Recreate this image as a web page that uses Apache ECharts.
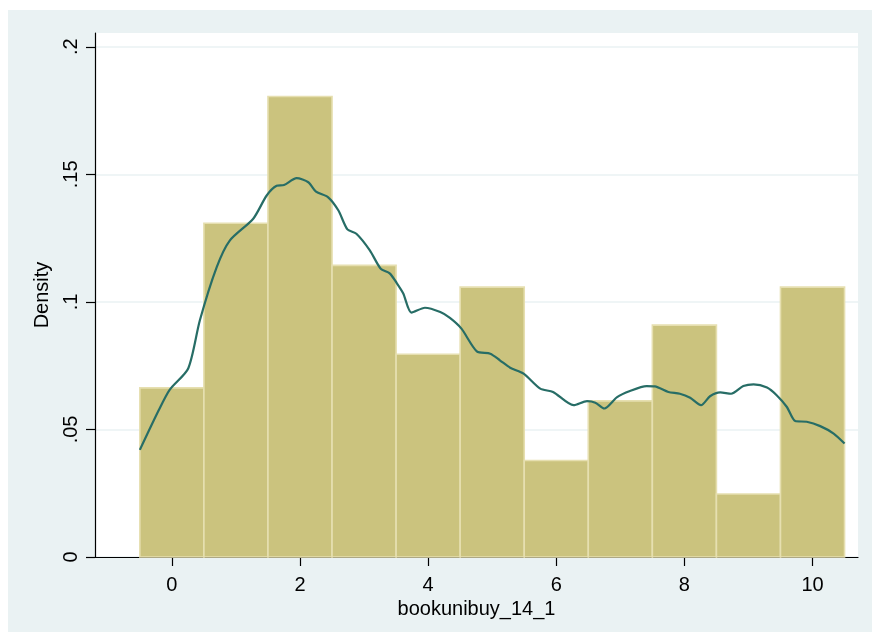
<!DOCTYPE html>
<html>
<head>
<meta charset="utf-8">
<script src="https://cdn.jsdelivr.net/npm/echarts@6/dist/echarts.min.js"></script>
<style>
  html, body { margin: 0; padding: 0; background: #ffffff; }
  #chart { width: 872px; height: 639px; }
</style>
</head>
<body>
<div id="chart"></div>
<script>
// Histogram bins (centres) and their densities
const binCentres = [0, 1, 2, 3, 4, 5, 6, 7, 8, 9, 10];
const binDensity = [0.0663, 0.1308, 0.1805, 0.1143, 0.0795, 0.1058, 0.0378, 0.0612, 0.0909, 0.0247, 0.1058];
const binWidth = 1;

// Kernel density estimate
const kdeX = [-0.5, -0.2, -0.03, 0.255, 0.437, 0.70, 0.906, 1.27, 1.48, 1.635, 1.75, 1.947, 2.13, 2.25, 2.44, 2.6, 2.74, 2.88, 3.09, 3.26, 3.40, 3.51, 3.61, 3.74, 3.95, 4.19, 4.34, 4.52, 4.76, 4.97, 5.12, 5.28, 5.49, 5.75, 5.95, 6.27, 6.48, 6.61, 6.75, 6.95, 7.15, 7.41, 7.54, 7.75, 7.93, 8.09, 8.26, 8.40, 8.56, 8.73, 8.92, 9.08, 9.29, 9.44, 9.60, 9.73, 9.91, 10.12, 10.33, 10.5];
const kdeY = [0.0420, 0.0578, 0.0657, 0.0739, 0.0928, 0.1136, 0.1241, 0.1326, 0.1417, 0.1455, 0.1458, 0.1485, 0.1469, 0.1432, 0.1410, 0.1358, 0.1284, 0.1267, 0.1202, 0.1130, 0.1112, 0.1074, 0.1034, 0.0958, 0.0977, 0.0960, 0.0937, 0.0895, 0.0806, 0.0797, 0.0771, 0.0742, 0.0719, 0.0660, 0.0647, 0.0595, 0.0611, 0.0605, 0.0582, 0.0627, 0.0651, 0.0670, 0.0669, 0.0647, 0.0640, 0.0624, 0.0595, 0.0630, 0.0645, 0.0640, 0.0670, 0.0677, 0.0664, 0.0634, 0.0588, 0.0533, 0.0530, 0.0513, 0.0484, 0.0445];

// Axis ticks
const xTicks = [0, 2, 4, 6, 8, 10];
const yTicks = [0, 0.05, 0.1, 0.15, 0.2];

const xTitle = 'bookunibuy_14_1';
const yTitle = 'Density';

const FONT = '"Liberation Sans", Arial, sans-serif';
const REGION = '#eaf2f3';

const chart = echarts.init(document.getElementById('chart'), null, { renderer: 'canvas' });

const histData = binCentres.map((c, i) => [c, binDensity[i]]);
const kdeData = kdeX.map((x, i) => [x, kdeY[i]]);

function fmtY(v) {
  if (v === 0) return '0';
  return String(Math.round(v * 1000) / 1000).replace(/^0\./, '.');
}

chart.setOption({
  backgroundColor: '#ffffff',
  animation: false,
  graphic: [{
    type: 'rect',
    z: -100,
    silent: true,
    shape: { x: 8, y: 10, width: 864, height: 622 },
    style: { fill: REGION }
  }],
  grid: {
    left: 95, right: 14, top: 33, bottom: 82,
    show: true,
    backgroundColor: '#ffffff',
    borderWidth: 0
  },
  xAxis: {
    type: 'value',
    min: -1.2,
    max: 10.71,
    name: xTitle,
    nameLocation: 'middle',
    nameGap: 39,
    nameTextStyle: { fontFamily: FONT, fontSize: 20, color: '#000' },
    axisLine: { show: true, onZero: false, lineStyle: { color: '#000', width: 1.2 } },
    axisTick: { show: true, length: 9, customValues: xTicks, lineStyle: { color: '#000', width: 1.2 } },
    axisLabel: { customValues: xTicks, margin: 18, fontFamily: FONT, fontSize: 20, color: '#000' },
    splitLine: { show: false }
  },
  yAxis: {
    type: 'value',
    min: 0,
    max: 0.2054,
    name: yTitle,
    nameLocation: 'middle',
    nameGap: 43,
    nameRotate: 90,
    nameTextStyle: { fontFamily: FONT, fontSize: 20, color: '#000' },
    axisLine: { show: true, onZero: false, lineStyle: { color: '#000', width: 1.2 } },
    axisTick: { show: true, length: 9, customValues: yTicks, lineStyle: { color: '#000', width: 1.2 } },
    axisLabel: {
      customValues: yTicks, rotate: 90, margin: 14,
      fontFamily: FONT, fontSize: 20, color: '#000',
      formatter: fmtY
    },
    splitLine: { show: true, lineStyle: { color: REGION, width: 1.6 } }
  },
  series: [{
    type: 'custom',
    name: 'hist',
    data: histData,
    z: 2,
    renderItem: function (params, api) {
      const c = api.value(0);
      const v = api.value(1);
      const p0 = api.coord([c - binWidth / 2, v]);
      const p1 = api.coord([c + binWidth / 2, 0]);
      return {
        type: 'rect',
        shape: { x: p0[0], y: p0[1], width: p1[0] - p0[0], height: p1[1] - p0[1] },
        style: { fill: '#cbc37e', stroke: '#e6dfb0', lineWidth: 1.6 }
      };
    }
  }, {
    type: 'line',
    name: 'kde',
    data: kdeData,
    z: 3,
    smooth: 0.25,
    symbol: 'none',
    lineStyle: { color: '#276d66', width: 2.2 }
  }]
});
</script>
</body>
</html>
